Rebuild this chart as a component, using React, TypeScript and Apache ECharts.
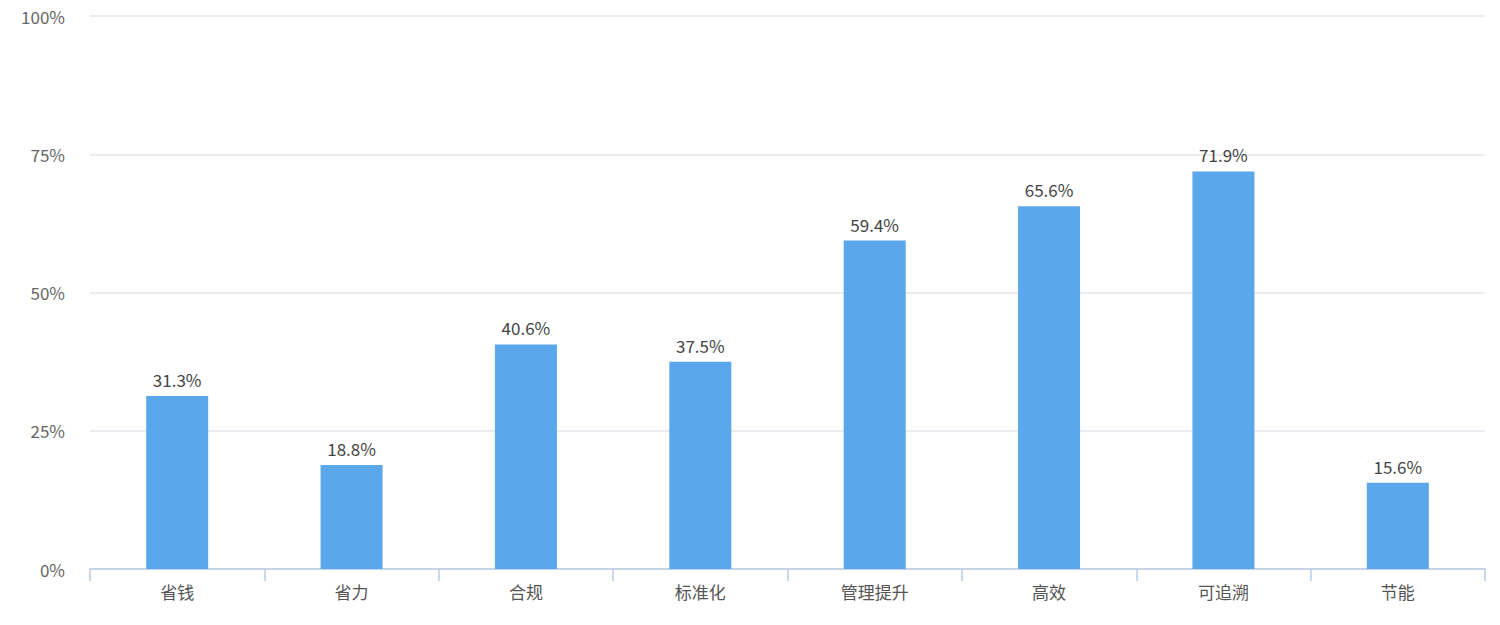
import React, { useEffect, useRef } from 'react';
import * as echarts from 'echarts';

const categories = ['省钱', '省力', '合规', '标准化', '管理提升', '高效', '可追溯', '节能'];
const values = [31.3, 18.8, 40.6, 37.5, 59.4, 65.6, 71.9, 15.6];
const yTicks = [0, 25, 50, 75, 100];

const FONT = '"Microsoft YaHei", "Noto Sans CJK SC", "DejaVu Sans", sans-serif';

export default function App() {
  const chartRef = useRef<HTMLDivElement>(null);

  useEffect(() => {
    if (!chartRef.current) return;
    const chart = echarts.init(chartRef.current, undefined, { renderer: 'svg' });

    const option: echarts.EChartsOption = {
      animation: false,
      textStyle: { fontFamily: FONT },
      grid: { left: 90, right: 15, top: 16, bottom: 56 },
      xAxis: {
        type: 'category',
        data: categories,
        axisLine: { lineStyle: { color: '#b9cde3', width: 1.5 } },
        axisTick: { show: true, length: 12, lineStyle: { color: '#b9cde3', width: 1.5 } },
        axisLabel: { color: '#555', fontSize: 17, margin: 14, fontFamily: FONT }
      },
      yAxis: {
        type: 'value',
        min: yTicks[0],
        max: yTicks[yTicks.length - 1],
        interval: 25,
        axisLine: { show: false },
        axisTick: { show: false },
        axisLabel: { color: '#666', fontSize: 17, margin: 25, formatter: '{value}%', fontFamily: FONT },
        splitLine: { lineStyle: { color: '#e2e7ee', width: 1.5 } }
      },
      series: [
        {
          type: 'bar',
          data: values,
          barWidth: 62,
          itemStyle: { color: '#5aa8eb' },
          label: {
            show: true,
            position: 'top',
            distance: 8,
            color: '#444',
            fontSize: 17,
            fontFamily: FONT,
            formatter: (p: any) => `${p.value}%`
          }
        }
      ]
    };

    chart.setOption(option);
    return () => chart.dispose();
  }, []);

  return (
    <div
      ref={chartRef}
      style={{ position: 'absolute', left: 0, top: 0, width: 1500, height: 625, background: '#fff' }}
    />
  );
}
